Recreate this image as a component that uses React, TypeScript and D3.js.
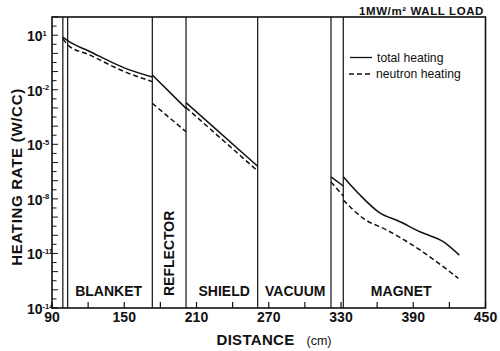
import React from 'react';
import * as d3 from 'd3';

// ---- data ----
const xTicks = [90, 120, 150, 180, 210, 240, 270, 300, 330, 360, 390, 420, 450];
const xTickLabels = [90, 150, 210, 270, 330, 390, 450];
const yLabelExponents = [1, -2, -5, -8, -11, -14];
const boundaries = [99, 103, 173.3, 201.3, 260.8, 321.7, 331.9];
const regionNames = ['BLANKET', 'SHIELD', 'VACUUM', 'MAGNET'];
const regionCenters = [137, 233, 292, 380];
const rotatedRegionName = 'REFLECTOR';
const rotatedRegionAt = 191;

const blanketDist = [99, 104, 120, 150, 173.3];
const blanketTotal = [7.9, 4.5, 1.4, 0.16, 0.05];
const blanketNeutron = [6.3, 2.6, 0.89, 0.1, 0.028];
const reflectorDist = [173.3, 201.3];
const reflectorTotal = [0.065, 9.5e-4];
const reflectorNeutron = [1.8e-3, 4.9e-5];
const shieldDist = [201.3, 260.8];
const shieldTotal = [1.95e-3, 6.2e-7];
const shieldNeutron = [1.05e-3, 3.4e-7];
const caseDist = [321.7, 331.9];
const caseTotal = [1.6e-7, 5.1e-8];
const caseNeutron = [8.5e-8, 1.45e-8];
const magnetDist = [331.9, 345.8, 361, 379, 395.6, 414.9, 428.2];
const magnetTotal = [1.66e-7, 1.62e-8, 1.95e-9, 5.5e-10, 1.55e-10, 4.4e-11, 8.1e-12];
const magnetNeutronDist = [331.9, 340.2, 348.5, 367.9, 395.6, 414.9, 427.4];
const magnetNeutron = [8.7e-9, 2.45e-9, 8.5e-10, 1.95e-10, 1.55e-11, 1.86e-12, 4.3e-13];

const legendLabels = ['total heating', 'neutron heating'];
const title = '1MW/m² WALL LOAD';

const W = 500, H = 351;
const L = 52, R = 485.5, T = 17, B = 308;
const FONT = '"Liberation Sans", Arial, Helvetica, sans-serif';
const INK = '#111';

export default function App() {
  const x = d3.scaleLinear().domain([90, 450]).range([L, R]);
  const y = d3.scaleLog().domain([1e-14, 1e2]).range([B, T]);
  const line = d3
    .line<[number, number]>()
    .x((d) => x(d[0]))
    .y((d) => y(d[1]))
    .curve(d3.curveMonotoneX);
  const zip = (a: number[], b: number[]) => a.map((v, i) => [v, b[i]] as [number, number]);

  const totals = [
    zip(blanketDist, blanketTotal),
    zip(reflectorDist, reflectorTotal),
    zip(shieldDist, shieldTotal),
    zip(caseDist, caseTotal),
    zip(magnetDist, magnetTotal),
  ];
  const neutrons = [
    zip(blanketDist, blanketNeutron),
    zip(reflectorDist, reflectorNeutron),
    zip(shieldDist, shieldNeutron),
    zip(caseDist, caseNeutron),
    zip(magnetNeutronDist, magnetNeutron),
  ];

  const yMinor = d3.range(-14, 2.01, 0.5);

  return (
    <svg
      width={W}
      height={H}
      viewBox={`0 0 ${W} ${H}`}
      style={{ position: 'absolute', left: 0, top: 0, background: '#fff' }}
      fontFamily={FONT}
    >
      <rect x={0} y={0} width={W} height={H} fill="#fff" />
      {/* boundaries */}
      {boundaries.map((b, i) => (
        <line key={i} x1={x(b)} x2={x(b)} y1={T} y2={B} stroke={INK} strokeWidth={1.2} />
      ))}
      {/* y ticks */}
      {yMinor.map((e, i) => (
        <line
          key={i}
          x1={L}
          x2={L + (Number.isInteger(e) ? 6 : 4.5)}
          y1={y(Math.pow(10, e))}
          y2={y(Math.pow(10, e))}
          stroke={INK}
          strokeWidth={1}
        />
      ))}
      {/* x ticks */}
      {xTicks.map((t, i) => (
        <line key={i} x1={x(t)} x2={x(t)} y1={B} y2={B - 6} stroke={INK} strokeWidth={1.2} />
      ))}
      {/* frame */}
      <rect x={L} y={T} width={R - L} height={B - T} fill="none" stroke={INK} strokeWidth={1.6} />

      {/* curves */}
      {totals.map((seg, i) => (
        <path key={'t' + i} d={line(seg) || ''} fill="none" stroke={INK} strokeWidth={1.5} />
      ))}
      {neutrons.map((seg, i) => (
        <path
          key={'n' + i}
          d={line(seg) || ''}
          fill="none"
          stroke={INK}
          strokeWidth={1.5}
          strokeDasharray="5,3"
        />
      ))}

      {/* x tick labels */}
      {xTickLabels.map((t, i) => (
        <text key={i} x={x(t)} y={322} textAnchor="middle" fontSize={14} fontWeight="bold" fill={INK}>
          {t}
        </text>
      ))}
      {/* y tick labels */}
      {yLabelExponents.map((e, i) => {
        const ty = y(Math.pow(10, e));
        return (
          <g key={i}>
            <text x={42.5} y={ty + 6} textAnchor="end" fontSize={14} fontWeight="bold" fill={INK}>
              10
            </text>
            <text x={42.5} y={ty + 0.5} textAnchor="start" fontSize={7.5} fontWeight="bold" fill={INK}>
              {e < 0 ? '-' + Math.abs(e) : String(e)}
            </text>
          </g>
        );
      })}

      {/* region labels */}
      {regionNames.map((n, i) => (
        <text
          key={i}
          x={x(regionCenters[i])}
          y={295.5}
          textAnchor="middle"
          fontSize={14}
          fontWeight="bold"
          fill={INK}
        >
          {n}
        </text>
      ))}
      <text
        transform={`translate(${x(rotatedRegionAt)},296) rotate(-90)`}
        textAnchor="start"
        fontSize={14}
        fontWeight="bold"
        fill={INK}
      >
        {rotatedRegionName}
      </text>

      {/* legend */}
      <line x1={350} x2={372} y1={57.5} y2={57.5} stroke={INK} strokeWidth={1.3} />
      <text x={377} y={61.8} fontSize={12.2} fill={INK}>
        {legendLabels[0]}
      </text>
      <line x1={349} x2={371} y1={74} y2={74} stroke={INK} strokeWidth={1.3} strokeDasharray="5,3" />
      <text x={376} y={78.3} fontSize={12.2} fill={INK}>
        {legendLabels[1]}
      </text>

      {/* title */}
      <text x={484} y={15} textAnchor="end" fontSize={11.5} fontWeight="bold" letterSpacing={0.6} fill={INK}>
        {title}
      </text>

      {/* axis titles */}
      <text x={216.5} y={345} fontSize={15} fontWeight="bold" letterSpacing={0.3} fill={INK}>
        DISTANCE
      </text>
      <text x={306.5} y={345} fontSize={12.5} fill={INK}>
        (cm)
      </text>
      <text
        transform={`translate(21.5,177) rotate(-90)`}
        textAnchor="middle"
        fontSize={15}
        fontWeight="bold"
        letterSpacing={0.7}
        fill={INK}
      >
        HEATING RATE (W/CC)
      </text>
    </svg>
  );
}
